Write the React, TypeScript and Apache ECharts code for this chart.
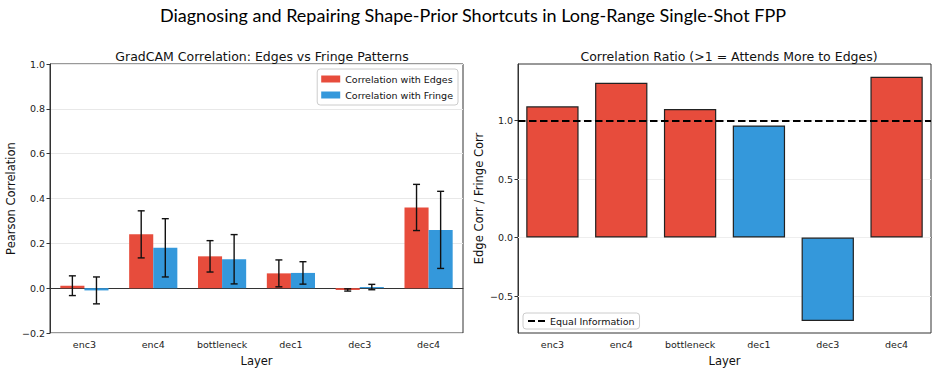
import React, { useEffect, useRef } from "react";
import * as echarts from "echarts";

const layers = ["enc3", "enc4", "bottleneck", "dec1", "dec3", "dec4"];
const edgeCorr = [0.011, 0.24, 0.142, 0.066, -0.008, 0.36];
const edgeErr = [0.044, 0.105, 0.07, 0.06, 0.005, 0.103];
const fringeCorr = [-0.01, 0.18, 0.129, 0.068, 0.005, 0.26];
const fringeErr = [0.06, 0.13, 0.11, 0.05, 0.012, 0.172];
const ratio = [1.122, 1.323, 1.099, 0.958, -0.714, 1.374];
const leftTicks = [-0.2, 0, 0.2, 0.4, 0.6, 0.8, 1.0];
const rightTicks = [-0.5, 0, 0.5, 1.0];

const RED = "#e74c3c";
const BLUE = "#3498db";
const FONT = "DejaVu Sans";

const fmt = (v: number) => {
  const s = Math.abs(v).toFixed(1);
  return v < -1e-9 ? "\u2212" + s : s;
};

function errSeries(vals: number[], errs: number[], offset: number) {
  return {
    type: "custom",
    xAxisIndex: 0,
    yAxisIndex: 0,
    z: 10,
    silent: true,
    encode: { x: 0, y: 1 },
    data: vals.map((v, i) => [i, v, errs[i]]),
    renderItem: (params: any, api: any) => {
      const i = api.value(0);
      const v = api.value(1);
      const e = api.value(2);
      const c = api.coord([i, v]);
      const band = api.size([1, 0])[0];
      const x = c[0] + offset * band;
      const top = api.coord([i, v + e])[1];
      const bot = api.coord([i, v - e])[1];
      const st = { stroke: "#111", lineWidth: 1.4 };
      return {
        type: "group",
        children: [
          { type: "line", shape: { x1: x, y1: top, x2: x, y2: bot }, style: st },
          { type: "line", shape: { x1: x - 3.5, y1: top, x2: x + 3.5, y2: top }, style: st },
          { type: "line", shape: { x1: x - 3.5, y1: bot, x2: x + 3.5, y2: bot }, style: st },
        ],
      };
    },
  };
}

export default function App() {
  const ref = useRef<HTMLDivElement>(null);
  useEffect(() => {
    document.body.style.margin = "0";
    const chart = echarts.init(ref.current!, null, { renderer: "svg" });
    const axisLineStyle = { color: "#333", width: 1 };
    const option: any = {
      animation: false,
      backgroundColor: "#fff",
      textStyle: { fontFamily: FONT },
      title: [
        {
          text: "Diagnosing and Repairing Shape-Prior Shortcuts in Long-Range Single-Shot FPP",
          left: 468,
          top: 1,
          textAlign: "center",
          textStyle: { fontFamily: "Lato", fontSize: 18, fontWeight: "normal", color: "#000" },
        },
        {
          text: "GradCAM Correlation: Edges vs Fringe Patterns",
          left: 257,
          top: 45,
          textAlign: "center",
          textStyle: { fontFamily: FONT, fontSize: 12.5, fontWeight: "normal", color: "#111" },
        },
        {
          text: "Correlation Ratio (>1 = Attends More to Edges)",
          left: 724,
          top: 45,
          textAlign: "center",
          textStyle: { fontFamily: FONT, fontSize: 12.5, fontWeight: "normal", color: "#111" },
        },
      ],
      grid: [
        { left: 50, top: 64, width: 413, height: 271, show: true, borderColor: "#333", borderWidth: 1, backgroundColor: "transparent" },
        { left: 518, top: 64, width: 413, height: 271, show: true, borderColor: "#333", borderWidth: 1, backgroundColor: "transparent" },
      ],
      legend: [
        {
          data: ["Correlation with Edges", "Correlation with Fringe"],
          orient: "vertical",
          right: 479,
          top: 69,
          itemWidth: 19,
          itemHeight: 7,
          itemGap: 6,
          icon: "rect",
          backgroundColor: "#fff",
          borderColor: "#ccc",
          borderWidth: 1,
          borderRadius: 3,
          padding: [5, 5, 5, 4],
          textStyle: { fontFamily: FONT, fontSize: 9.5, color: "#111" },
          selectedMode: false,
        },
        {
          data: [{ name: "Equal Information", icon: "path://M0,0H7V2H0Z M10,0H17V2H10Z" }],
          left: 523,
          top: 313,
          itemWidth: 17,
          itemHeight: 2,
          backgroundColor: "#fff",
          borderColor: "#ccc",
          borderWidth: 1,
          borderRadius: 3,
          padding: [3, 5, 3, 5],
          textStyle: { fontFamily: FONT, fontSize: 9.5, color: "#111" },
          itemStyle: { color: "#000" },
          selectedMode: false,
        },
      ],
      xAxis: [0, 1].map((g) => ({
        type: "category",
        gridIndex: g,
        data: layers,
        name: "Layer",
        nameLocation: "middle",
        nameGap: 22,
        nameTextStyle: { fontFamily: FONT, fontSize: 11.5, color: "#111" },
        axisLine: { lineStyle: axisLineStyle },
        axisTick: { alignWithLabel: true, length: 3.5, lineStyle: { color: "#333" } },
        axisLabel: { fontFamily: FONT, fontSize: 9.5, color: "#222", margin: 6 },
        splitLine: { show: false },
      })),
      yAxis: [
        {
          type: "value",
          gridIndex: 0,
          min: -0.2,
          max: 1.0,
          interval: 0.2,
          name: "Pearson Correlation",
          nameLocation: "middle",
          nameGap: 33,
          nameTextStyle: { fontFamily: FONT, fontSize: 11.5, color: "#111" },
          axisLine: { show: true, lineStyle: axisLineStyle },
          axisTick: { show: true, length: 3.5, lineStyle: { color: "#333" } },
          axisLabel: { fontFamily: FONT, fontSize: 9.5, color: "#222", margin: 5, formatter: (v: number) => fmt(v) },
          splitLine: { show: true, lineStyle: { color: "#e8e8e8", width: 1 } },
        },
        {
          type: "value",
          gridIndex: 1,
          min: -0.816,
          max: 1.484,
          name: "Edge Corr / Fringe Corr",
          nameLocation: "middle",
          nameGap: 33,
          nameTextStyle: { fontFamily: FONT, fontSize: 11.5, color: "#111" },
          axisLine: { show: true, lineStyle: axisLineStyle },
          axisTick: { show: true, length: 3.5, lineStyle: { color: "#333" }, customValues: rightTicks },
          axisLabel: {
            fontFamily: FONT,
            fontSize: 9.5,
            color: "#222",
            margin: 5,
            customValues: rightTicks,
            formatter: (v: number) => fmt(v),
          },
          splitLine: { show: false },
        },
      ],
      series: [
        {
          name: "Correlation with Edges",
          type: "bar",
          xAxisIndex: 0,
          yAxisIndex: 0,
          data: edgeCorr,
          barWidth: "35%",
          barGap: "0%",
          itemStyle: { color: RED },
        },
        {
          name: "Correlation with Fringe",
          type: "bar",
          xAxisIndex: 0,
          yAxisIndex: 0,
          data: fringeCorr,
          barWidth: "35%",
          barGap: "0%",
          itemStyle: { color: BLUE },
        },
        errSeries(edgeCorr, edgeErr, -0.175),
        errSeries(fringeCorr, fringeErr, 0.175),
        {
          name: "ratio",
          type: "bar",
          xAxisIndex: 1,
          yAxisIndex: 1,
          barWidth: "76%",
          data: ratio.map((v) => ({
            value: v,
            itemStyle: { color: v > 1 ? RED : BLUE, borderColor: "#222", borderWidth: 1.2 },
          })),
          markLine: {
            silent: true,
            symbol: ["none", "none"],
            label: { show: false },
            z: 1,
            lineStyle: { color: "#eee", type: "solid", width: 1 },
            data: rightTicks.map((t) => ({ yAxis: t })),
          },
          z: 3,
        },
        {
          name: "Equal Information",
          type: "line",
          xAxisIndex: 1,
          yAxisIndex: 1,
          data: [],
          symbol: "none",
          z: 5,
          lineStyle: { color: "#000", type: [7, 3.5], width: 2 },
          itemStyle: { color: "#000" },
          markLine: {
            silent: true,
            symbol: ["none", "none"],
            label: { show: false },
            lineStyle: { color: "#000", type: [7.5, 3.5], width: 2 },
            data: [{ yAxis: 1 }],
          },
        },
      ],
    };
    chart.setOption(option);
    return () => chart.dispose();
  }, []);
  return <div ref={ref} style={{ width: 937, height: 372, position: "absolute", left: 0, top: 0 }} />;
}
